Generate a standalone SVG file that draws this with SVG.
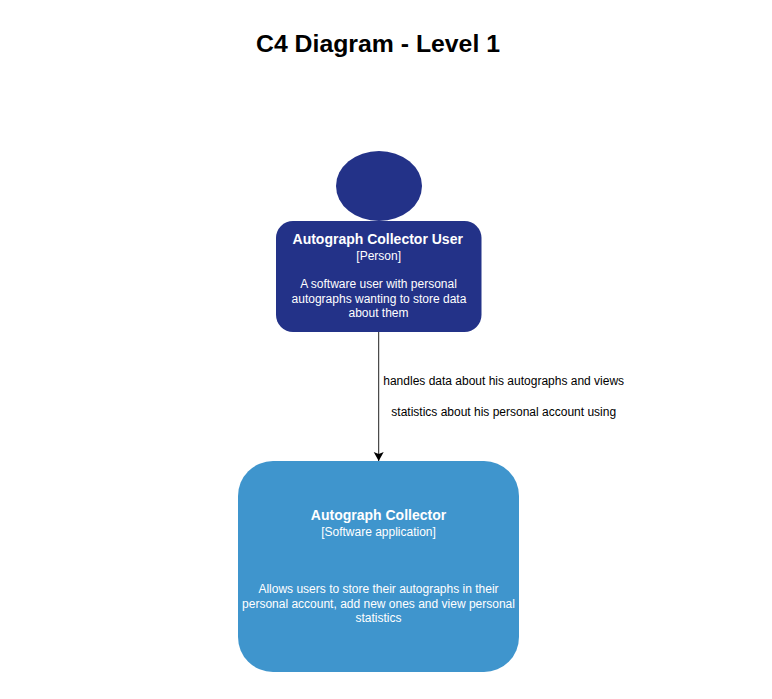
<svg xmlns="http://www.w3.org/2000/svg" width="772" height="699" viewBox="0 0 772 699">
<style>
text{font-family:"Liberation Sans",Arial,sans-serif;text-anchor:middle}
.t{font-size:14px;font-weight:bold;fill:#fff}
.s{font-size:12px;fill:#fff}
.l{font-size:12px;fill:#000}
</style>
<defs><marker id="a" markerUnits="userSpaceOnUse" markerWidth="10" markerHeight="12" refX="9" refY="5" orient="auto"><path d="M0 0L9 5L0 10L2 5Z" fill="#000"/></marker></defs>
<rect width="772" height="699" fill="#fff"/>
<text x="378" y="52" style="font-size:24.800px;font-weight:bold;fill:#000">C4 Diagram - Level 1</text>
<g id="connectors"><path d="M378.700 332V461" fill="none" stroke="#222" marker-end="url(#a)"/>
<text class="l" x="503.700" y="385">handles data about his autographs and views</text>
<text class="l" x="503.700" y="416">statistics about his personal account using</text></g>
<g id="user"><ellipse cx="379" cy="186" rx="43" ry="35" fill="#233288"/>
<rect x="276" y="221" width="205.500" height="111" rx="17" fill="#233288"/>
<text class="t" x="377.700" y="244">Autograph Collector User</text>
<text class="s" x="378.700" y="260">[Person]</text>
<text class="s" x="378.500" y="288">A software user with personal</text>
<text class="s" x="379" y="303">autographs wanting to store data</text>
<text class="s" x="378.500" y="317">about them</text></g>
<g id="system"><rect x="238" y="461" width="281" height="211" rx="35" fill="#3f95cd"/>
<text class="t" x="378.500" y="520">Autograph Collector</text>
<text class="s" x="378.500" y="536">[Software application]</text>
<text class="s" x="378.500" y="593">Allows users to store their autographs in their</text>
<text class="s" x="378.500" y="608">personal account, add new ones and view personal</text>
<text class="s" x="378.500" y="622">statistics</text></g>
</svg>
